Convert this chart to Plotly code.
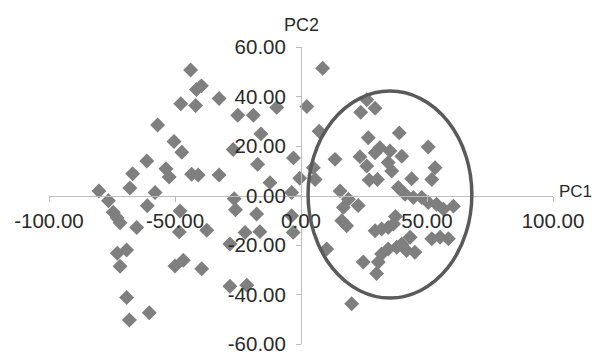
import plotly.graph_objects as go

# PCA scores: first principal component (PC1) and second (PC2)
pc1 = [
    -43.8, -41.5, -39.5, -47.7, -41.8, -32.5, -56.9, -50.4, -47.3, -61.2,
    -53.6, -52.3, -66.8, -43.4, -40.8, -32.5, -67.9, -80.2, -57.9, -25.1,
    -18.9, -9.6, -15.9, -26.9, -17.2, -3.0, -12.3, -0.5, -3.7, -26.5,
    -26.0, -17.6, -3.7, -3.1, -37.4, -22.2, -16.3, -28.2, -39.4, -28.2,
    -21.5, -76.4, -74.5, -73.0, -71.8, -65.2, -61.0, -48.0, -48.3, -72.9,
    -69.2, -71.8, -50.0, -46.7, -69.2, -60.2, -68.1,
    8.6, 2.3, 7.2, 4.9, 5.6, 10.2, 26.1, 29.4, 23.7, 26.7,
    39.0, 50.5, 13.5, 23.4, 31.3, 35.3, 29.4, 40.0, 26.1, 34.6,
    36.0, 53.2, 51.9, 43.9, 27.1, 30.3, 15.5, 18.8, 16.8, 22.7,
    16.2, 18.1, 38.6, 41.3, 44.6, 47.9, 50.5, 53.8, 56.5, 60.5,
    37.5, 29.4, 32.0, 34.6, 36.7, 43.3, 51.9, 55.2, 58.5, 40.0,
    38.0, 41.9, 45.2, 34.6, 32.0, 30.7, 24.7, 30.0, 20.1,
]
pc2 = [
    50.7, 42.8, 44.3, 37.1, 36.4, 39.2, 28.5, 21.8, 17.5, 13.9,
    10.8, 7.5, 8.8, 8.6, 8.3, 8.3, 3.0, 1.8, 1.2, 32.4,
    32.4, 35.6, 24.9, 18.6, 12.6, 15.2, 5.2, 7.0, 1.2, -1.3,
    -5.8, -7.5, -8.2, -14.9, -14.0, -14.9, -14.6, -19.6, -29.6, -36.7,
    -36.3, -2.1, -6.8, -9.0, -11.0, -12.9, -4.1, -6.3, -14.7, -23.3,
    -22.0, -28.6, -28.5, -26.2, -41.2, -47.4, -50.3,
    51.4, 36.0, 26.0, 11.2, 6.5, -21.6, 38.7, 35.3, 33.6, 23.3,
    25.3, 19.6, 14.6, 15.7, 19.3, 18.0, 17.3, 15.9, 11.9, 13.3,
    9.9, 11.2, 6.5, 6.8, 6.3, 6.5, 1.8, -1.5, -4.8, -4.0,
    -10.2, -12.2, 3.2, 0.5, -0.8, -0.8, -2.8, -3.5, -5.5, -4.3,
    -8.5, -14.2, -13.5, -12.9, -11.5, -16.9, -17.5, -16.9, -17.5, -19.6,
    -20.9, -22.2, -22.9, -21.6, -23.6, -26.9, -26.9, -31.5, -43.7,
]

x_ticks = [-100, -50, 0, 50, 100]
y_ticks = [-60, -40, -20, 0, 20, 40, 60]

# Cluster outline (centre and semi-axes in PC units)
cluster_cx, cluster_cy = 35.3, 0.4
cluster_rx, cluster_ry = 32.5, 41.8

fig = go.Figure()
fig.add_trace(go.Scatter(
    x=pc1, y=pc2, mode="markers",
    marker=dict(symbol="diamond", size=11.5, color="#7f7f7f", line=dict(width=0)),
    hoverinfo="x+y", showlegend=False,
))

fig.add_shape(
    type="circle", xref="x", yref="y",
    x0=cluster_cx - cluster_rx, x1=cluster_cx + cluster_rx,
    y0=cluster_cy - cluster_ry, y1=cluster_cy + cluster_ry,
    line=dict(color="#5a5a5a", width=3.5),
)

tick_font = dict(family="Liberation Sans, Arial, sans-serif", size=20.5, color="#2a2a2a")
axis_common = dict(
    showgrid=False, zeroline=False, showline=True, linecolor="#bdbdbd", linewidth=1,
    ticks="outside", ticklen=5, tickcolor="#bdbdbd", tickwidth=1,
    tickfont=tick_font, anchor="free", position=0.5, automargin=False,
    ticklabeloverflow="allow",
)

fig.update_layout(
    width=595, height=354,
    margin=dict(l=49, r=42, t=47, b=10),
    paper_bgcolor="white", plot_bgcolor="white",
    xaxis=dict(range=[-100, 100], tickvals=x_ticks,
               ticktext=[f"{v:.2f}" for v in x_ticks], ticklabelstandoff=2,
               **axis_common),
    yaxis=dict(range=[-60, 60], tickvals=y_ticks,
               ticktext=[f"{v:.2f}" for v in y_ticks], ticklabelstandoff=6,
               **axis_common),
    annotations=[
        dict(text="PC2", xref="x", yref="paper", x=0, y=1.073,
             xanchor="center", yanchor="middle", showarrow=False,
             font=dict(family="Liberation Sans, Arial, sans-serif", size=18, color="#2a2a2a")),
        dict(text="PC1", xref="paper", yref="paper", x=1.008, y=0.515,
             xanchor="left", yanchor="middle", showarrow=False,
             font=dict(family="Liberation Sans, Arial, sans-serif", size=17, color="#2a2a2a")),
    ],
)

fig.write_html("out.html")
